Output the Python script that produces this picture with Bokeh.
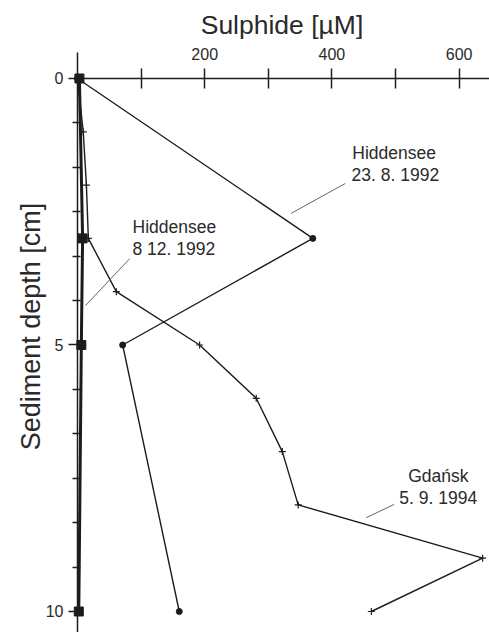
import math
from bokeh.plotting import figure
from bokeh.models import Range1d, FixedTicker, Label, ColumnDataSource
from bokeh.embed import file_html
from bokeh.resources import INLINE

# ---- data ----
gd_depth = [0, 1, 2, 3, 4, 5, 6, 7, 8, 9, 10]
gd_sulphide = [0, 9, 14, 17, 61, 192, 281, 322, 347, 637, 462]

h23_depth = [0, 3, 5, 10]
h23_sulphide = [0, 370, 71, 160]

h812_depth = [0, 3, 5, 10]
h812_sulphide = [3, 8, 6, 2]

x_ticks = [100, 200, 300, 400, 500, 600]
x_tick_labels = {100: "", 200: "200", 300: "", 400: "400", 500: "", 600: "600"}
y_ticks = [0, 5, 10]
y_minor = [k * 5 / 6 for k in range(1, 13) if k not in (6, 12)]

FONT = "Liberation Sans"
INK = "#1c1c1c"
TXT = "#2a2a2a"

p = figure(width=489, height=632, output_backend="svg", toolbar_location=None,
           x_axis_location="above",
           x_range=Range1d(-121.1, 647.8), y_range=Range1d(10.394, -1.463),
           min_border=0, min_border_left=0, min_border_right=0,
           min_border_top=0, min_border_bottom=0)
p.outline_line_color = None
p.xgrid.visible = False
p.ygrid.visible = False
p.background_fill_color = "white"
p.border_fill_color = "white"

# x axis (top, crossing at depth 0)
xa = p.xaxis[0]
xa.fixed_location = 0
xa.ticker = FixedTicker(ticks=x_ticks, minor_ticks=[])
xa.major_label_overrides = x_tick_labels
xa.bounds = (-5, 648)
xa.major_tick_in = 10
xa.major_tick_out = 10
xa.minor_tick_in = 0
xa.minor_tick_out = 0
xa.axis_line_width = 1.5
xa.axis_line_color = INK
xa.major_tick_line_width = 1.5
xa.major_tick_line_color = INK
xa.major_label_text_font = FONT
xa.major_label_text_font_size = "16px"
xa.major_label_text_color = TXT
xa.major_label_standoff = 8
xa.axis_label = "Sulphide [µM]"
xa.axis_label_text_font = FONT
xa.axis_label_text_font_size = "26.5px"
xa.axis_label_text_font_style = "normal"
xa.axis_label_text_color = TXT
xa.axis_label_standoff = 6

# y axis (left, crossing at sulphide 0)
ya = p.yaxis[0]
ya.fixed_location = 0
ya.ticker = FixedTicker(ticks=y_ticks, minor_ticks=y_minor)
ya.bounds = (-0.49, 10.4)
ya.major_tick_in = 0
ya.major_tick_out = 9
ya.minor_tick_in = 3
ya.minor_tick_out = 5
ya.axis_line_width = 1.5
ya.axis_line_color = INK
ya.major_tick_line_width = 1.5
ya.major_tick_line_color = INK
ya.minor_tick_line_width = 1.5
ya.minor_tick_line_color = INK
ya.major_label_text_font = FONT
ya.major_label_text_font_size = "16px"
ya.major_label_text_color = TXT
ya.major_label_standoff = 5

# y axis title as a rotated label
p.add_layout(Label(x=30, y=632 - 326, x_units="screen", y_units="screen",
                   text="Sediment depth [cm]", angle=math.pi / 2,
                   text_font=FONT, text_font_size="27px", text_color=TXT,
                   text_align="center", text_baseline="middle"))

# ---- series ----
s23 = ColumnDataSource(dict(x=h23_sulphide, y=h23_depth))
s812 = ColumnDataSource(dict(x=h812_sulphide, y=h812_depth))
sgd = ColumnDataSource(dict(x=gd_sulphide, y=gd_depth))

p.line("x", "y", source=s812, line_color=INK, line_width=3)
p.scatter("x", "y", source=s812, marker="square", size=9,
          fill_color=INK, line_color=INK)

p.line("x", "y", source=sgd, line_color=INK, line_width=1.4)
p.scatter("x", "y", source=sgd, marker="cross", size=7,
          line_color=INK, line_width=1.2)

p.line("x", "y", source=s23, line_color=INK, line_width=1.4)
p.scatter("x", "y", source=s23, marker="circle", size=6,
          fill_color=INK, line_color=INK)

# ---- annotations ----
def note(x, y, txt):
    p.add_layout(Label(x=x, y=y, text=txt, text_font=FONT, text_font_size="17.5px",
                       text_color=TXT, text_align="left", text_baseline="middle"))

note(432, 1.39, "Hiddensee")
note(431, 1.82, "23. 8. 1992")
p.segment(x0=[421], y0=[1.97], x1=[336], y1=[2.53], line_color="#666666", line_width=1)

note(86.5, 2.78, "Hiddensee")
note(86.5, 3.19, "8  12. 1992")
p.segment(x0=[82], y0=[3.38], x1=[12.6], y1=[4.26], line_color="#666666", line_width=1)

note(520, 7.45, "Gdańsk")
note(506, 7.88, "5. 9. 1994")
p.segment(x0=[498], y0=[7.99], x1=[454], y1=[8.24], line_color="#666666", line_width=1)

open("out.html", "w").write(file_html(p, INLINE))
